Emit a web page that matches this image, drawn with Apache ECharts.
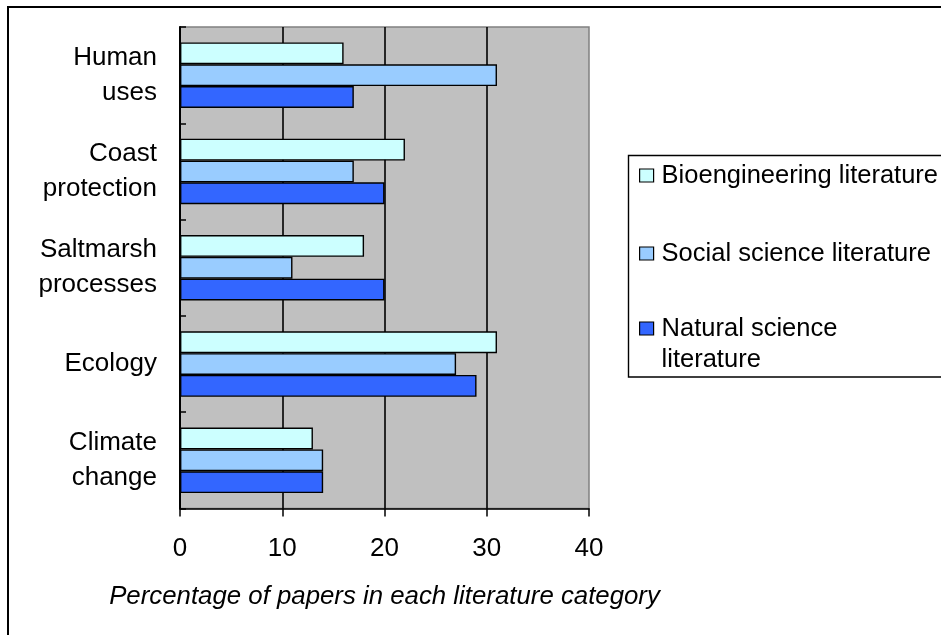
<!DOCTYPE html>
<html>
<head>
<meta charset="utf-8">
<script src="https://cdn.jsdelivr.net/npm/echarts@6/dist/echarts.min.js"></script>
<style>
  html, body { margin: 0; padding: 0; background: #fff; }
  #chart { width: 941px; height: 635px; }
</style>
</head>
<body>
<div id="chart"></div>
<script>
// Topic categories, bottom to top on the category axis
const categories = ['Climate\nchange', 'Ecology', 'Saltmarsh\nprocesses', 'Coast\nprotection', 'Human\nuses'];

// Share of papers (%) per topic for each literature category
const bioengineering = [13, 31, 18, 22, 16];
const socialScience = [14, 27, 11, 17, 31];
const naturalScience = [14, 29, 20, 20, 17];

const seriesNames = ['Bioengineering literature', 'Social science literature', 'Natural science literature'];
// The leading blank line keeps the swatch level with the first text line
const legendLabels = ['Bioengineering literature', 'Social science literature', '\nNatural science\nliterature'];

const valueTicks = { min: 0, max: 40, interval: 10 };
const axisTitle = 'Percentage of papers in each literature category';

const FONT = '"Liberation Sans", Arial, sans-serif';
const colors = { bio: '#CCFFFF', social: '#99CCFF', natural: '#3366FF' };

const chart = echarts.init(document.getElementById('chart'), null, { renderer: 'canvas' });

function barSeries(name, data, color) {
  return {
    name: name,
    type: 'bar',
    data: data,
    barGap: '0%',
    barCategoryGap: '32%',
    itemStyle: { color: color, borderColor: '#000', borderWidth: 1.4 }
  };
}

function legendFor(idx, top) {
  return {
    show: true,
    orient: 'vertical',
    left: 639,
    top: top,
    padding: 0,
    icon: 'rect',
    itemWidth: 14,
    itemHeight: 13,
    selectedMode: false,
    data: [seriesNames[idx]],
    formatter: function () { return legendLabels[idx]; },
    itemStyle: { borderColor: '#000', borderWidth: 1.2 },
    textStyle: {
      fontFamily: FONT,
      fontSize: 25.5,
      color: '#000',
      lineHeight: 31,
      padding: [0, 0, 0, 3]
    }
  };
}

const option = {
  animation: false,
  backgroundColor: '#fff',
  textStyle: { fontFamily: FONT },
  grid: {
    left: 180,
    right: 352,
    top: 27,
    bottom: 126.5,
    show: true,
    backgroundColor: '#C0C0C0',
    borderColor: '#808080',
    borderWidth: 1.5
  },
  graphic: [
    {
      type: 'rect',
      shape: { x: 8, y: 7, width: 1000, height: 1000 },
      style: { fill: null, stroke: '#000', lineWidth: 2 },
      silent: true,
      z: 100
    },
    {
      type: 'rect',
      shape: { x: 628.5, y: 155.5, width: 400, height: 221.5 },
      style: { fill: '#fff', stroke: '#000', lineWidth: 1.4 },
      silent: true,
      z: 0
    }
  ],
  legend: [
    legendFor(0, 160),
    legendFor(1, 238),
    legendFor(2, 282)
  ],
  xAxis: {
    type: 'value',
    min: valueTicks.min,
    max: valueTicks.max,
    interval: valueTicks.interval,
    name: axisTitle,
    nameLocation: 'middle',
    nameGap: 88,
    nameTextStyle: {
      fontFamily: FONT,
      fontSize: 25.8,
      fontStyle: 'italic',
      color: '#000',
      verticalAlign: 'middle'
    },
    axisLine: { show: true, lineStyle: { color: '#000', width: 1.5 } },
    axisTick: { show: true, inside: false, length: 8, lineStyle: { color: '#000', width: 1.5 } },
    axisLabel: { fontFamily: FONT, fontSize: 26, color: '#000', margin: 27 },
    splitLine: { show: true, showMinLine: false, showMaxLine: false, lineStyle: { color: '#000', width: 1.6 } }
  },
  yAxis: {
    type: 'category',
    data: categories,
    axisLine: { show: true, lineStyle: { color: '#000', width: 2 } },
    axisTick: { show: true, inside: true, length: 6, alignWithLabel: false, lineStyle: { color: '#000', width: 1.5 } },
    axisLabel: { fontFamily: FONT, fontSize: 26, color: '#000', margin: 23, lineHeight: 35, align: 'right' },
    splitLine: { show: false }
  },
  series: [
    barSeries(seriesNames[0], bioengineering, colors.bio),
    barSeries(seriesNames[1], socialScience, colors.social),
    barSeries(seriesNames[2], naturalScience, colors.natural)
  ]
};

chart.setOption(option);
</script>
</body>
</html>
